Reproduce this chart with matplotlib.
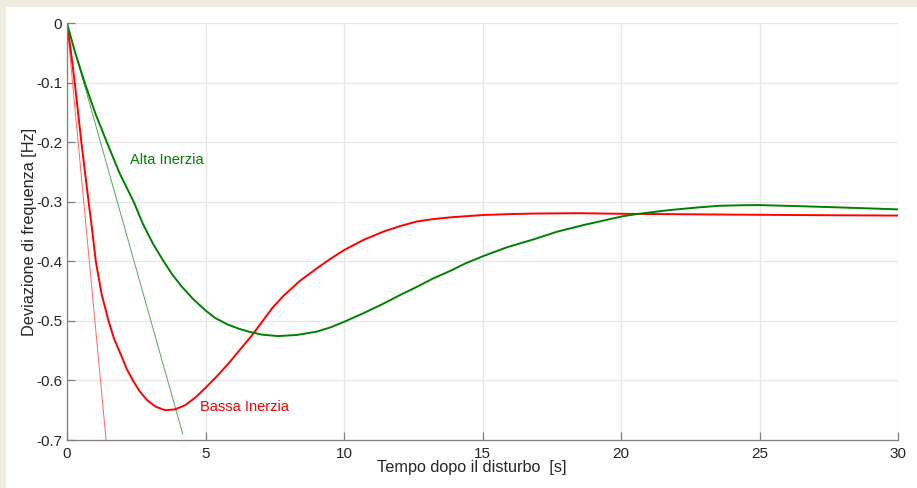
import matplotlib
matplotlib.use("Agg")
import matplotlib.pyplot as plt
from matplotlib.patches import Rectangle

# curve (tempo [s], deviazione [Hz])
t_bassa = [0, 0.14, 0.28, 0.52, 0.78, 0.90, 1.04, 1.25, 1.50, 1.70, 1.93, 2.15,
           2.38, 2.62, 2.89, 3.2, 3.55, 3.9, 4.27, 4.65, 5.03, 5.43, 5.84,
           6.25, 6.68, 7.04, 7.4, 7.81, 8.41, 9.01, 9.5, 10.0, 10.7, 11.42,
           12.0, 12.62, 13.2, 13.83, 15.03, 16.0, 17.0, 18.5, 20.0, 22.85,
           26.0, 30.0]
f_bassa = [0, -0.047, -0.10, -0.20, -0.30, -0.344, -0.40, -0.455, -0.50, -0.530,
           -0.555, -0.580, -0.600, -0.618, -0.633, -0.644, -0.650, -0.6485,
           -0.6415, -0.628, -0.611, -0.592, -0.571, -0.548, -0.524, -0.5015,
           -0.479, -0.458, -0.4326, -0.412, -0.396, -0.381, -0.364, -0.350,
           -0.341, -0.333, -0.329, -0.326, -0.322, -0.3205, -0.3195, -0.319,
           -0.320, -0.321, -0.322, -0.323]

t_alta = [0, 0.28, 0.64, 1.02, 1.44, 1.90, 2.41, 2.74, 3.1, 3.49, 3.8, 4.15,
          4.55, 4.99, 5.35, 5.8, 6.2, 6.56, 7.04, 7.63, 8.3, 9.01, 9.5, 10.0,
          10.7, 11.42, 12.0, 12.62, 13.2, 13.83, 14.4, 15.03, 15.9, 16.84,
          17.7, 18.64, 19.4, 20.08, 20.56, 21.7, 22.85, 23.57, 24.3, 25.0,
          26.3, 27.7, 29.0, 30.0]
f_alta = [0, -0.047, -0.10, -0.151, -0.20, -0.252, -0.30, -0.337, -0.370, -0.40,
          -0.422, -0.4427, -0.463, -0.482, -0.495, -0.506, -0.513, -0.518,
          -0.523, -0.5255, -0.5235, -0.518, -0.511, -0.5015, -0.487, -0.471,
          -0.457, -0.443, -0.429, -0.416, -0.403, -0.391, -0.376, -0.363,
          -0.350, -0.339, -0.331, -0.324, -0.3205, -0.314, -0.309, -0.3065,
          -0.3057, -0.3054, -0.307, -0.309, -0.311, -0.3126]

# tangenti iniziali (RoCoF)
t_tan_bassa = [0, 1.41]
f_tan_bassa = [0, -0.70]
t_tan_alta = [0, 4.18]
f_tan_alta = [0, -0.69]

x_ticks = [0, 5, 10, 15, 20, 25, 30]
y_ticks = [0, -0.1, -0.2, -0.3, -0.4, -0.5, -0.6, -0.7]
y_tick_labels = ["0", "-0.1", "-0.2", "-0.3", "-0.4", "-0.5", "-0.6", "-0.7"]

plt.rcParams['font.family'] = ['Liberation Sans', 'DejaVu Sans']

fig = plt.figure(figsize=(9.17, 4.88), dpi=100, facecolor="#eeebe0")
# pannello bianco
fig.patches.append(Rectangle((6 / 917, 0), 1, 1 - 7 / 488, transform=fig.transFigure,
                             facecolor="white", edgecolor="none", zorder=-10))

ax = fig.add_axes([67 / 917, 48 / 488, 831 / 917, 416.7 / 488])
ax.set_zorder(1)
ax.set_facecolor("white")

red = "#ff0000"
green = "#008000"
ax.plot(t_tan_bassa, f_tan_bassa, color="#ff6666", lw=0.7)
ax.plot(t_tan_alta, f_tan_alta, color="#55aa55", lw=0.7)
ax.plot(t_bassa, f_bassa, color=red, lw=1.4)
ax.plot(t_alta, f_alta, color=green, lw=1.4)

ax.text(2.27, -0.229, "Alta Inerzia", color=green, fontsize=10.5, va="center")
ax.text(4.8, -0.645, "Bassa Inerzia", color=red, fontsize=10.5, va="center")

ax.set_xlim(0, 30)
ax.set_ylim(-0.7, 0)
ax.set_xticks(x_ticks)
ax.set_yticks(y_ticks)
ax.set_yticklabels(y_tick_labels)
ax.grid(True, color="#e6e6e6", lw=0.9)
ax.set_axisbelow(True)
for s in ["top", "right"]:
    ax.spines[s].set_visible(False)
for s in ["left", "bottom"]:
    ax.spines[s].set_color("#7f7f7f")
    ax.spines[s].set_linewidth(0.9)
ax.tick_params(direction="in", length=6, width=0.9, color="#7f7f7f",
               labelcolor="#262626", labelsize=11)
ax.tick_params(axis="x", pad=5)
ax.set_xlabel("Tempo dopo il disturbo  [s]", fontsize=11.7, color="#262626")
ax.xaxis.set_label_coords(0.4874, -0.049)
ax.set_ylabel("Deviazione di frequenza [Hz]", fontsize=11.7, color="#262626", labelpad=-1)

fig.savefig("out.png", dpi=100, facecolor=fig.get_facecolor())
